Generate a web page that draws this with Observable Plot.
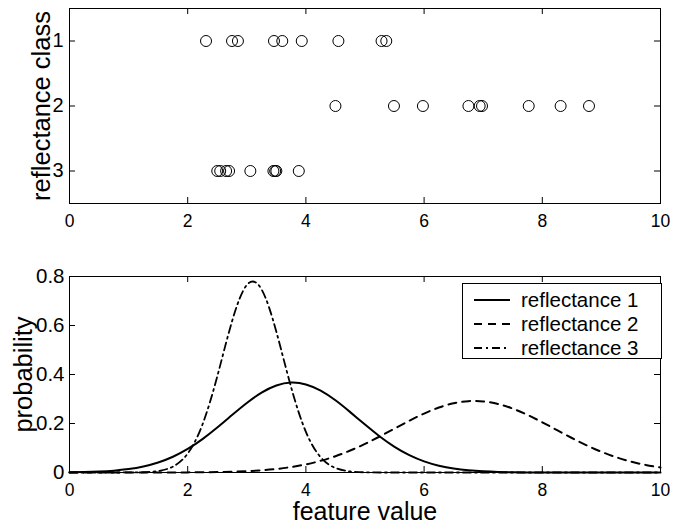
<!DOCTYPE html>
<html>
<head>
<meta charset="utf-8">
<script src="https://cdn.jsdelivr.net/npm/d3@7"></script>
<script src="https://cdn.jsdelivr.net/npm/@observablehq/plot@0.6"></script>
<style>
  html, body { margin: 0; padding: 0; background: white; }
  #chart { position: relative; width: 673px; height: 525px; font-family: "Liberation Sans", Arial, sans-serif; }
  #chart svg { display: block; }
  #legend { position: absolute; left: 462px; top: 283px; width: 198px; height: 74px; border: 1px solid black; background: white; }
  #legend .row { position: absolute; left: 0; height: 24px; width: 198px; }
  #legend .row svg { position: absolute; left: 11px; top: 0; }
  #legend .row span { position: absolute; left: 58px; top: 0; line-height: 24px; font-size: 20.5px; color: black; white-space: nowrap; }
</style>
</head>
<body>
<div id="chart"></div>
<script>
// ---- data ----
const xTicks = [0, 2, 4, 6, 8, 10];
const classTicks = [1, 2, 3];
const classTickLabels = ["1", "2", "3"];
const probTicks = [0, 0.2, 0.4, 0.6, 0.8];
const probTickLabels = ["0", "0.2", "0.4", "0.6", "0.8"];

// observed feature values per reflectance class
const class1 = [2.31, 2.75, 2.85, 3.46, 3.60, 3.93, 4.55, 5.28, 5.36];
const class2 = [4.50, 5.49, 5.98, 6.75, 6.94, 6.98, 7.77, 8.31, 8.79];
const class3 = [2.50, 2.55, 2.65, 2.70, 3.06, 3.45, 3.48, 3.50, 3.88];

// probability curves
const featureX = [0, 0.25, 0.5, 0.75, 1, 1.25, 1.5, 1.75, 2, 2.25, 2.5, 2.75, 3, 3.25, 3.5, 3.75, 4, 4.25, 4.5, 4.75,
  5, 5.25, 5.5, 5.75, 6, 6.25, 6.5, 6.75, 7, 7.25, 7.5, 7.75, 8, 8.25, 8.5, 8.75, 9, 9.25, 9.5, 9.75, 10];
const prob1 = [0.0009, 0.0019, 0.0039, 0.0075, 0.0139, 0.0244, 0.0407, 0.0642, 0.0960, 0.1363, 0.1835, 0.2343, 0.2837,
  0.3259, 0.3550, 0.3669, 0.3595, 0.3342, 0.2947, 0.2464, 0.1955, 0.1471, 0.1049, 0.0710, 0.0456, 0.0278, 0.0160,
  0.0088, 0.0046, 0.0022, 0.0011, 0.0005, 0.0002, 0.0001, 0, 0, 0, 0, 0, 0, 0];
const prob2 = [0, 0, 0, 0, 0, 0.0001, 0.0001, 0.0003, 0.0005, 0.0010, 0.0018, 0.0032, 0.0055, 0.0091, 0.0144, 0.0222,
  0.0331, 0.0477, 0.0665, 0.0896, 0.1167, 0.1471, 0.1792, 0.2111, 0.2406, 0.2651, 0.2826, 0.2912, 0.2902, 0.2797,
  0.2608, 0.2350, 0.2049, 0.1727, 0.1408, 0.1110, 0.0846, 0.0624, 0.0445, 0.0307, 0.0204];
const prob3 = [0, 0, 0, 0, 0.0002, 0.0011, 0.0059, 0.0240, 0.0773, 0.1961, 0.3920, 0.6172, 0.7652, 0.7472, 0.5745,
  0.3479, 0.1659, 0.0623, 0.0184, 0.0043, 0.0008, 0.0001, 0, 0, 0, 0, 0, 0, 0, 0, 0, 0, 0, 0, 0, 0, 0, 0, 0, 0, 0];

const seriesNames = ["reflectance 1", "reflectance 2", "reflectance 3"];
const seriesDash = ["none", "8,6", "8,4,2,4"];

// ---- tables built from the arrays ----
const points = [
  ...class1.map(v => ({value: v, cls: 1})),
  ...class2.map(v => ({value: v, cls: 2})),
  ...class3.map(v => ({value: v, cls: 3}))
];
const curves = [prob1, prob2, prob3].map(arr => featureX.map((x, i) => ({x, p: arr[i]})));

const FONT = '"Liberation Sans", Arial, sans-serif';
const W = 673, ML = 69, MR = 13;
const frameW = W - ML - MR;

// ---- top panel ----
const topH = 240, topMT = 8, topMB = 37;
const topFrameH = topH - topMT - topMB;
const topPlot = Plot.plot({
  width: W, height: topH,
  marginLeft: ML, marginRight: MR, marginTop: topMT, marginBottom: topMB,
  style: {fontFamily: FONT, background: "white", color: "black", overflow: "visible"},
  x: {domain: [0, 10], label: null},
  y: {domain: [0.5, 3.5], reverse: true, label: null},
  marks: [
    Plot.frame({stroke: "black", strokeWidth: 1}),
    Plot.ruleX(xTicks, {x: d => d, insetTop: topFrameH - 6, stroke: "black"}),
    Plot.ruleX(xTicks, {x: d => d, insetBottom: topFrameH - 6, stroke: "black"}),
    Plot.ruleY(classTicks, {y: d => d, insetRight: frameW - 6, stroke: "black"}),
    Plot.ruleY(classTicks, {y: d => d, insetLeft: frameW - 6, stroke: "black"}),
    Plot.axisX(xTicks, {tickSize: 0, tickPadding: 11, fontSize: 17.5, label: null}),
    Plot.axisY(classTicks, {tickSize: 0, tickPadding: 6, fontSize: 20, label: null,
      tickFormat: d => classTickLabels[classTicks.indexOf(d)]}),
    Plot.dot(points, {x: "value", y: "cls", r: 5.5, stroke: "black", fill: "none", strokeWidth: 1}),
    Plot.text(["reflectance class"], {text: d => d, frameAnchor: "left", textAnchor: "middle", lineAnchor: "middle",
      rotate: -90, dx: -28, fontSize: 25.5})
  ]
});

// ---- bottom panel ----
const botH = 285, botMT = 36, botMB = 53;
const botFrameH = botH - botMT - botMB;
const bottomPlot = Plot.plot({
  width: W, height: botH,
  marginLeft: ML, marginRight: MR, marginTop: botMT, marginBottom: botMB,
  style: {fontFamily: FONT, background: "white", color: "black", overflow: "visible"},
  x: {domain: [0, 10], label: null},
  y: {domain: [0, 0.8], label: null},
  marks: [
    Plot.ruleX(xTicks, {x: d => d, insetTop: botFrameH - 6, stroke: "black"}),
    Plot.ruleX(xTicks, {x: d => d, insetBottom: botFrameH - 6, stroke: "black"}),
    Plot.ruleY(probTicks, {y: d => d, insetRight: frameW - 6, stroke: "black"}),
    Plot.ruleY(probTicks, {y: d => d, insetLeft: frameW - 6, stroke: "black"}),
    Plot.axisX(xTicks, {tickSize: 0, tickPadding: 11, fontSize: 17.5, label: null}),
    Plot.axisY(probTicks, {tickSize: 0, tickPadding: 5, fontSize: 20.5, label: null,
      tickFormat: d => probTickLabels[probTicks.indexOf(d)]}),
    ...curves.map((c, i) => Plot.line(c, {x: "x", y: "p", curve: "natural", stroke: "black",
      strokeWidth: i === 2 ? 1.8 : 2, strokeDasharray: seriesDash[i] === "none" ? null : seriesDash[i]})),
    Plot.frame({stroke: "black", strokeWidth: 1}),
    Plot.text(["probability"], {text: d => d, frameAnchor: "left", textAnchor: "middle", lineAnchor: "middle",
      rotate: -90, dx: -46, fontSize: 25.5}),
    Plot.text(["feature value"], {text: d => d, frameAnchor: "bottom", textAnchor: "middle", lineAnchor: "middle",
      dy: 39, fontSize: 25})
  ]
});

const chart = document.getElementById("chart");
chart.appendChild(topPlot);
chart.appendChild(bottomPlot);

// ---- legend ----
const legend = document.createElement("div");
legend.id = "legend";
const rowCenters = [16, 40, 63.5];
seriesNames.forEach((name, i) => {
  const row = document.createElement("div");
  row.className = "row";
  row.style.top = (rowCenters[i] - 12) + "px";
  const dash = seriesDash[i] === "none" ? "" : ` stroke-dasharray="${seriesDash[i]}"`;
  row.innerHTML = `<svg width="36" height="24"><line x1="0" x2="36" y1="12" y2="12" stroke="black" stroke-width="${i === 2 ? 1.8 : 2}"${dash}/></svg><span>${name}</span>`;
  legend.appendChild(row);
});
chart.appendChild(legend);
</script>
</body>
</html>
